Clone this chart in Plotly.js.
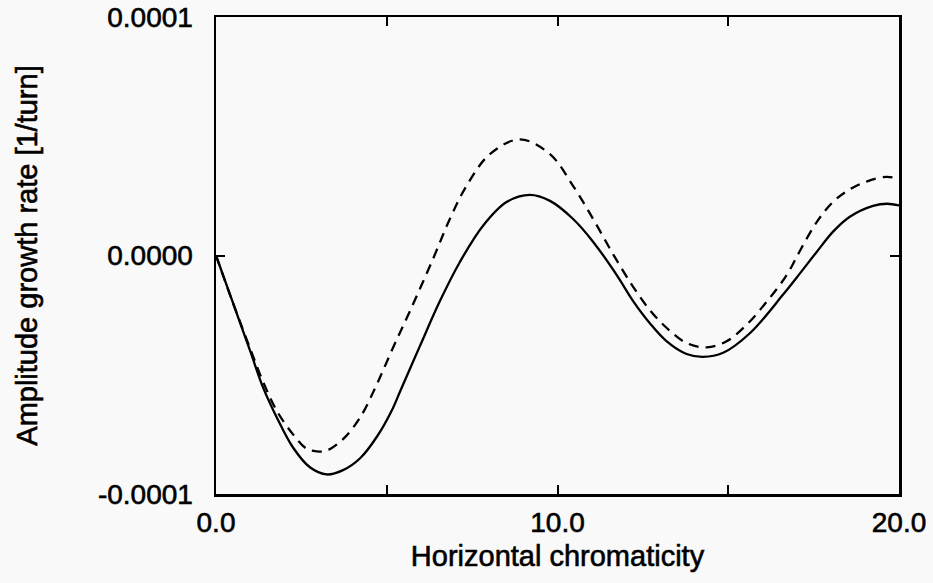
<!DOCTYPE html>
<html>
<head>
<meta charset="utf-8">
<script src="https://cdn.plot.ly/plotly-3.0.1.min.js"></script>
<style>
html,body{margin:0;padding:0;background:#f9f9f9;}
#chart{width:933px;height:583px;}
#chart svg text{stroke:#000;stroke-width:0.6px;}
</style>
</head>
<body>
<div id="chart"></div>
<script>
// values in units of 1e-4 [1/turn]
var unit = 1e-4;
var solidX = [0,0.5,1.0,1.38,1.78,2.25,2.75,3.24,3.72,4.22,4.71,5.18,5.39,5.97,6.56,7.15,7.82,8.52,9.19,9.78,10.45,11.04,11.74,12.21,12.71,13.2,13.78,14.26,14.85,15.64,16.6,17.1,17.59,18.07,18.56,19.24,19.65,20];
var solidY = [0,-0.20,-0.40,-0.554,-0.679,-0.804,-0.888,-0.918,-0.900,-0.85,-0.76,-0.64,-0.57,-0.38,-0.19,-0.025,0.125,0.225,0.254,0.229,0.154,0.058,-0.083,-0.19,-0.285,-0.36,-0.413,-0.425,-0.408,-0.325,-0.165,-0.075,0.015,0.10,0.1625,0.208,0.217,0.21];
var dashX = [0,0.5,1.0,1.38,1.78,2.25,2.66,2.95,3.24,3.72,4.22,4.71,5.18,5.68,6.36,6.85,7.34,8.02,8.9,9.78,10.45,11.04,11.63,12.21,12.71,13.2,13.78,14.37,14.95,15.54,16.13,16.71,17.1,17.59,18.07,18.56,19.05,19.64,20];
var dashY = [0,-0.20,-0.39,-0.53,-0.651,-0.749,-0.811,-0.821,-0.818,-0.77,-0.679,-0.54,-0.3875,-0.233,-0.0125,0.154,0.293,0.425,0.487,0.425,0.293,0.154,0.005,-0.13,-0.23,-0.304,-0.367,-0.385,-0.36,-0.29,-0.193,-0.082,0.02,0.14,0.225,0.277,0.31,0.33,0.32];
var xTickVals = [0,5,10,15,20];
var xTickText = ['0.0','','10.0','','20.0'];
var yTickVals = [-1e-4,0,1e-4];
var yTickText = ['-0.0001','0.0000','0.0001'];

function scale(a){return a.map(function(v){return v*unit;});}

var traces = [
  {x: solidX, y: scale(solidY), mode:'lines', line:{color:'#000', width:2.3, shape:'spline', smoothing:1}, showlegend:false, hoverinfo:'skip'},
  {x: dashX, y: scale(dashY), mode:'lines', line:{color:'#000', width:2.3, dash:'10px,7px', shape:'spline', smoothing:1}, showlegend:false, hoverinfo:'skip'}
];
var tickFont = {family:'"Liberation Sans", Arial, sans-serif', size:28, color:'#000'};
var titleFont = {family:'"Liberation Sans", Arial, sans-serif', size:29, color:'#000'};
var layout = {
  width:933, height:583,
  margin:{l:216, r:34, t:17, b:89},
  paper_bgcolor:'#f9f9f9', plot_bgcolor:'#f9f9f9',
  font: tickFont,
  xaxis:{range:[0,20], tickvals:xTickVals, ticktext:xTickText, ticks:'inside', ticklen:9, tickwidth:2, tickcolor:'#000',
    showline:true, linewidth:2.5, linecolor:'#000', mirror:'ticks', showgrid:false, zeroline:false,
    ticklabelstandoff:2,
    tickfont:tickFont, title:{text:'Horizontal chromaticity', font:titleFont, standoff:9}},
  yaxis:{range:[-1e-4,1e-4], tickvals:yTickVals, ticktext:yTickText, ticks:'inside', ticklen:9, tickwidth:2, tickcolor:'#000',
    showline:true, linewidth:2.5, linecolor:'#000', mirror:'ticks', showgrid:false, zeroline:false,
    ticklabelstandoff:15,
    tickfont:tickFont, title:{text:'Amplitude growth rate [1/turn]', font:titleFont, standoff:52}}
};
Plotly.newPlot('chart', traces, layout, {staticPlot:true, displayModeBar:false});
</script>
</body>
</html>
